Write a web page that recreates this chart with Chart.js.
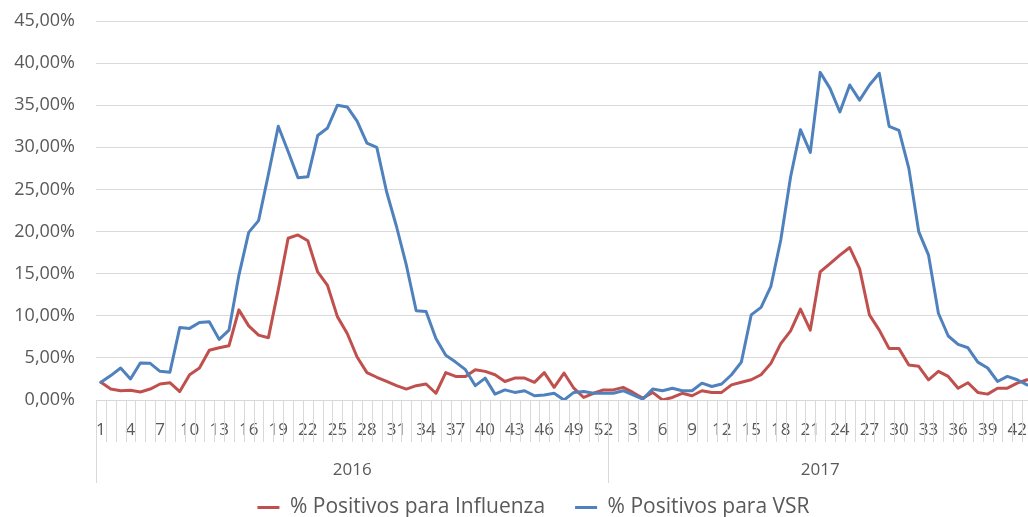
<!DOCTYPE html>
<html>
<head>
<meta charset="utf-8">
<script src="https://cdn.jsdelivr.net/npm/chart.js@4/dist/chart.umd.min.js"></script>
<style>
  html, body { margin: 0; padding: 0; width: 1028px; height: 517px; overflow: hidden; background: #fff; }
  #wrap { position: absolute; left: 0; top: 0; width: 1067px; height: 528px; }
</style>
</head>
<body>
<div id="wrap"><canvas id="fluChart"></canvas></div>
<script>
// weeks per year (2017 runs to week 43, the chart is cut on the right)
const years = ['2016', '2017'];
const weeks2016 = [1,2,3,4,5,6,7,8,9,10,11,12,13,14,15,16,17,18,19,20,21,22,23,24,25,26,
  27,28,29,30,31,32,33,34,35,36,37,38,39,40,41,42,43,44,45,46,47,48,49,50,51,52];
const weeks2017 = [1,2,3,4,5,6,7,8,9,10,11,12,13,14,15,16,17,18,19,20,21,22,
  23,24,25,26,27,28,29,30,31,32,33,34,35,36,37,38,39,40,41,42,43];

// % positive samples, 2016 wk1 .. 2017 wk43
const influenza = [
  2.1, 1.3, 1.1, 1.15, 0.95, 1.3, 1.9, 2.05, 1.0, 3.0,
  3.8, 5.9, 6.2, 6.45, 10.7, 8.8, 7.7, 7.4, 13.1, 19.2,
  19.6, 18.9, 15.2, 13.6, 9.9, 7.9, 5.1, 3.25, 2.7, 2.2,
  1.7, 1.3, 1.7, 1.9, 0.8, 3.25, 2.8, 2.8, 3.6, 3.4,
  3.0, 2.2, 2.6, 2.6, 2.1, 3.25, 1.5, 3.2, 1.4, 0.3,
  0.8, 1.2,
  // 2017
  1.2, 1.5, 0.9, 0.2, 0.9, 0.0, 0.3, 0.8,
  0.5, 1.1, 0.9, 0.9, 1.8, 2.1, 2.4, 3.0, 4.35, 6.7,
  8.2, 10.8, 8.3, 15.2, 16.2, 17.2, 18.1, 15.6, 10.1, 8.3,
  6.1, 6.1, 4.15, 4.0, 2.4, 3.4, 2.8, 1.4, 2.05, 0.9,
  0.7, 1.4, 1.4, 2.0, 2.4
];
const vsr = [
  2.1, 2.9, 3.8, 2.5, 4.4, 4.35, 3.4, 3.3, 8.6, 8.5,
  9.2, 9.3, 7.2, 8.3, 14.8, 19.9, 21.3, 26.8, 32.5, 29.5,
  26.4, 26.5, 31.4, 32.3, 35.0, 34.8, 33.1, 30.5, 30.0, 24.7,
  20.6, 16.0, 10.6, 10.5, 7.3, 5.3, 4.5, 3.6, 1.7, 2.6,
  0.7, 1.2, 0.9, 1.1, 0.5, 0.6, 0.8, 0.0, 0.9, 1.0,
  0.8, 0.8,
  // 2017
  0.8, 1.1, 0.6, 0.1, 1.3, 1.1, 1.4, 1.1,
  1.1, 2.0, 1.6, 1.9, 3.0, 4.5, 10.1, 11.0, 13.5, 19.0,
  26.5, 32.1, 29.4, 38.9, 37.0, 34.2, 37.4, 35.6, 37.4, 38.8,
  32.5, 32.0, 27.5, 20.0, 17.2, 10.3, 7.6, 6.6, 6.2, 4.5,
  3.8, 2.2, 2.8, 2.4, 1.8
];

const yMax = 45;
const yStep = 5;

const weekLabels = weeks2016.concat(weeks2017).map(String);
const red = '#C0504D';
const blue = '#4F81BD';
const grey = '#d9d9d9';
const textGrey = '#595959';

Chart.defaults.font.family = '"Open Sans", sans-serif';

// Excel style two level category axis: short ticks between weeks, long ones between years
const axisGroups = {
  id: 'axisGroups',
  afterDraw(chart) {
    const x = chart.scales.x;
    const ctx = chart.ctx;
    const step = x.getPixelForValue(1) - x.getPixelForValue(0);
    const edge = i => x.getPixelForValue(i) - step / 2;
    const yearEnds = [0, weeks2016.length, weekLabels.length];
    const top = x.top;
    ctx.save();
    ctx.strokeStyle = grey;
    ctx.lineWidth = 1;
    for (let i = 0; i <= weekLabels.length; i++) {
      const px = Math.round(edge(i)) + 0.5;
      const long = yearEnds.includes(i);
      ctx.beginPath();
      ctx.moveTo(px, top);
      ctx.lineTo(px, top + (long ? 83 : 42));
      ctx.stroke();
    }
    ctx.fillStyle = textGrey;
    ctx.font = '17px "Open Sans"';
    ctx.textAlign = 'center';
    ctx.textBaseline = 'middle';
    years.forEach((yr, k) => {
      const cx = (edge(yearEnds[k]) + edge(yearEnds[k + 1])) / 2;
      ctx.fillText(yr, cx, top + 70);
    });
    ctx.restore();
  }
};

const ctx = document.getElementById('fluChart').getContext('2d');

new Chart(ctx, {
  type: 'line',
  data: {
    labels: weekLabels,
    datasets: [
      { label: '% Positivos para Influenza', data: influenza, borderColor: red, backgroundColor: red, order: 1 },
      { label: '% Positivos para VSR', data: vsr, borderColor: blue, backgroundColor: blue, order: 0 }
    ]
  },
  options: {
    responsive: true,
    maintainAspectRatio: false,
    animation: false,
    layout: { padding: { left: 0, right: 0, top: 21, bottom: 0 } },
    elements: {
      line: { borderWidth: 3, tension: 0, borderJoinStyle: 'round', borderCapStyle: 'round' },
      point: { radius: 0, hoverRadius: 0 }
    },
    scales: {
      x: {
        offset: true,
        grid: { display: false, drawTicks: false },
        border: { color: grey },
        ticks: {
          autoSkip: false,
          maxRotation: 0,
          padding: 20,
          color: textGrey,
          font: { size: 17 },
          callback: (v, i) => (i % 3 === 0 ? weekLabels[i] : '')
        },
        afterFit: s => { s.height = 67; }
      },
      y: {
        min: 0,
        max: yMax,
        ticks: {
          stepSize: yStep,
          padding: 21,
          color: textGrey,
          font: { size: 18 },
          callback: v => v.toFixed(2).replace('.', ',') + '%'
        },
        grid: { color: grey, drawTicks: false },
        border: { display: false },
        afterFit: s => { s.width = 96; s.paddingTop = 0; s.paddingBottom = 0; }
      },
      // empty right margin, the original chart continues past the picture edge
      yRight: {
        position: 'right',
        grid: { display: false, drawTicks: false },
        ticks: { display: false },
        border: { display: false },
        afterFit: s => { s.width = 35; }
      }
    },
    plugins: {
      legend: {
        position: 'bottom',
        labels: {
          boxWidth: 22,
          boxHeight: 3,
          padding: 30,
          color: textGrey,
          font: { size: 21 },
          sort: (a, b) => a.datasetIndex - b.datasetIndex,
          generateLabels: chart => Chart.defaults.plugins.legend.labels.generateLabels(chart)
            .map(l => Object.assign(l, { fillStyle: l.strokeStyle, lineWidth: 0 }))
        }
      },
      tooltip: { enabled: false }
    }
  },
  plugins: [axisGroups]
});
</script>
</body>
</html>
